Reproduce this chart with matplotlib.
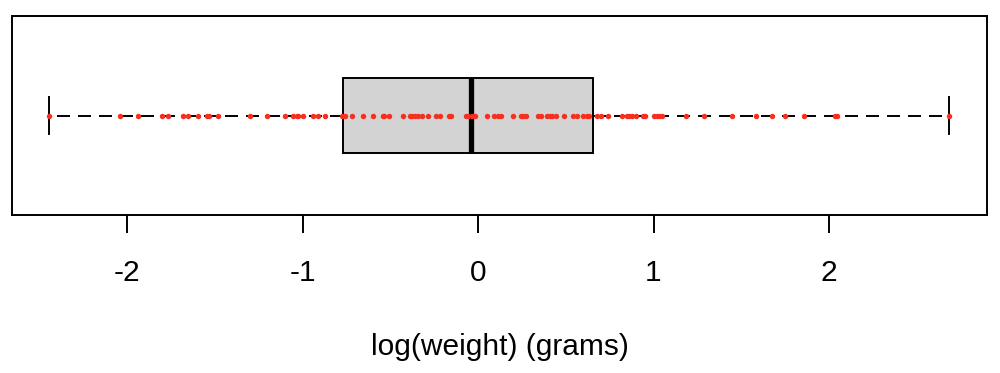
import matplotlib
matplotlib.use("Agg")
import matplotlib.pyplot as plt

# ---- data (log weight, grams) ----
points = [
    -2.445, -2.042, -1.937, -1.804, -1.766, -1.681, -1.652, -1.599, -1.547, -1.534,
    -1.481, -1.300, -1.205, -1.101, -1.054, -1.034, -1.025, -0.997, -0.943, -0.911,
    -0.873, -0.778, -0.759,
    -0.721, -0.654, -0.597, -0.544, -0.536, -0.506, -0.426, -0.388, -0.375, -0.360,
    -0.343, -0.322, -0.288, -0.240, -0.217, -0.166, -0.152, -0.069, -0.056, -0.032,
    -0.015, 0.049, 0.092, 0.113, 0.128, 0.199, 0.245, 0.258, 0.271, 0.343, 0.357,
    0.395, 0.410, 0.420, 0.444, 0.491, 0.539, 0.566, 0.600, 0.623, 0.634, 0.676,
    0.698, 0.741, 0.818, 0.847, 0.862, 0.876, 0.900, 0.938, 0.951, 1.003, 1.017,
    1.031, 1.046, 1.185, 1.288, 1.449, 1.584, 1.674, 1.750, 1.860, 2.035, 2.048,
    2.685,
]
box_q1 = -0.770
box_median = -0.043
box_q3 = 0.655
whisker_low = -2.445
whisker_high = 2.685
tick_values = [-2, -1, 0, 1, 2]
tick_labels = ["-2", "-1", "0", "1", "2"]
x_label = "log(weight) (grams)"

plt.rcParams['font.family'] = ['Liberation Sans', 'DejaVu Sans']

fig = plt.figure(figsize=(10, 3.73), dpi=100)
ax = fig.add_axes([0.012, 1 - 215 / 373, 0.975, 199 / 373])

stats = [dict(q1=box_q1, med=box_median, q3=box_q3,
              whislo=whisker_low, whishi=whisker_high, fliers=[])]
lw = 1.4
ax.bxp(stats, positions=[1], vert=False, widths=0.412, capwidths=0.206,
       patch_artist=True, showfliers=False,
       boxprops=dict(facecolor='#D3D3D3', edgecolor='black', linewidth=lw),
       medianprops=dict(color='black', linewidth=3.8, solid_capstyle='butt'),
       whiskerprops=dict(color='black', linewidth=lw, linestyle=(0, (6.7, 4.1))),
       capprops=dict(color='black', linewidth=lw))

ax.plot(points, [1] * len(points), linestyle='none', marker='o',
        markersize=3.9, markerfacecolor='#F5301E', markeredgewidth=0, zorder=5)

ax.set_xlim(-2.657, 2.901)
ax.set_ylim(0.46, 1.54)
ax.set_xticks(tick_values)
ax.set_xticklabels(tick_labels, fontsize=21.5)
ax.set_yticks([])
ax.tick_params(axis='x', direction='out', length=13, width=lw, pad=19)
for s in ax.spines.values():
    s.set_linewidth(lw)
ax.set_xlabel(x_label, fontsize=21.5, labelpad=33)

fig.savefig("out.png", dpi=100)
